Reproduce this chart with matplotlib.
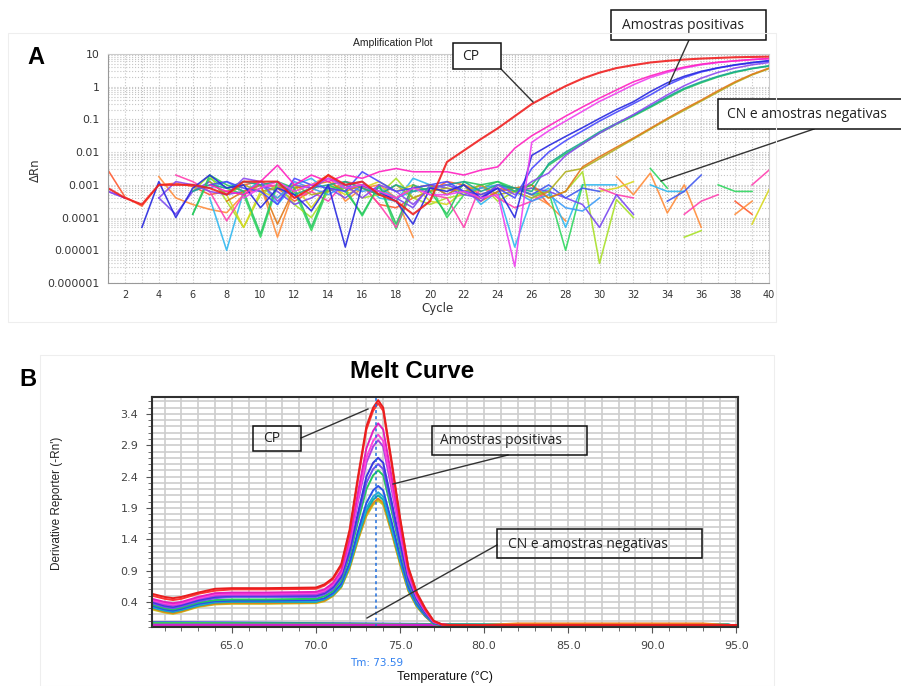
import numpy as np
import matplotlib
matplotlib.use('Agg')
import matplotlib.pyplot as plt
from matplotlib.patches import Rectangle
from matplotlib.ticker import FixedLocator, MultipleLocator, LogLocator, NullFormatter, FixedFormatter

n = np.nan

# ---------------- Panel A: amplification plot (log10 of delta Rn per cycle) ----------------
cycles = list(range(1, 41))

amp_cp_red = [-3.1,-3.4,-3.6,-3.0,-3.0,-3.0,-3.1,-3.3,-2.9,-2.9,-2.9,-3.4,-3.1,-2.7,-3.0,-2.9,-3.3,-3.5,-3.9,-3.5,
              -2.3,-1.95,-1.6,-1.27,-0.9,-0.53,-0.25,0.02,0.25,0.43,0.57,0.66,0.74,0.79,0.83,0.86,0.88,0.90,0.91,0.92]
amp_magenta1 = [n,n,n,n,n,n,-3.0,-3.2,-3.3,-2.9,-2.4,-3.0,-2.7,-2.9,-2.7,-2.8,-2.6,-2.5,-2.6,-2.6,
                -2.6,-2.7,-2.55,-2.45,-1.88,-1.5,-1.2,-0.9,-0.62,-0.35,-0.1,0.15,0.33,0.48,0.6,0.69,0.75,0.79,0.83,0.86]
amp_magenta2 = [n,n,n,n,n,n,n,n,-3.4,-3.1,-2.9,-3.2,-3.0,-2.8,-3.1,-3.0,-3.2,-3.4,-3.1,-3.3,
                -3.3,-3.2,-3.4,-3.3,-5.5,-1.7,-1.35,-1.05,-0.75,-0.45,-0.2,0.06,0.28,0.44,0.57,0.67,0.74,0.79,0.83,0.86]
amp_blue1 = [n,n,-4.3,-2.9,-4.0,-3.1,-2.7,-3.1,-3.0,-3.7,-3.1,-3.3,-3.8,-3.0,-4.9,-3.0,-3.2,-3.5,-4.2,-3.1,
             -3.2,-3.0,-3.4,-3.1,-4.0,-2.1,-1.8,-1.52,-1.25,-0.97,-0.7,-0.46,-0.15,0.12,0.32,0.47,0.58,0.67,0.74,0.8]
amp_blue2 = [n,n,n,n,n,n,-3.0,-2.9,-3.1,-3.2,-3.6,-2.8,-3.0,-3.1,-3.2,-2.6,-2.9,-3.2,-3.1,-3.0,
             -2.9,-3.2,-3.3,-3.1,-3.4,-2.5,-2.0,-1.65,-1.35,-1.05,-0.78,-0.52,-0.25,0.05,0.28,0.45,0.57,0.66,0.73,0.78]
amp_purple = [-3.2,-3.4,n,-3.4,-2.9,-3.0,-3.2,-3.3,-2.8,-2.9,-3.5,-3.0,-3.1,-2.8,-3.0,-3.4,-3.0,-3.2,-3.6,-3.1,
              -3.0,-3.2,-3.5,-3.0,-3.3,-2.9,-2.64,-2.1,-1.75,-1.42,-1.13,-0.85,-0.55,-0.25,0.03,0.26,0.44,0.57,0.67,0.74]
amp_teal = [n,n,n,n,n,-3.2,-3.0,-3.1,-2.9,-3.0,-2.9,-3.3,-3.1,-3.0,-2.9,-3.1,-3.3,-3.0,-3.2,-3.1,
            -3.0,-2.9,-3.2,-3.0,-3.1,-3.2,-2.35,-2.0,-1.7,-1.38,-1.12,-0.87,-0.6,-0.31,-0.05,0.15,0.32,0.46,0.56,0.64]
amp_green = [n,n,n,n,n,-3.9,-2.7,-3.0,-3.2,-4.5,-2.9,-3.1,-4.3,-3.0,-3.2,-3.9,-3.0,-4.2,-3.0,-3.2,
             -3.9,-2.9,-3.0,-2.9,-3.2,-3.0,-2.4,-2.05,-1.75,-1.42,-1.15,-0.9,-0.63,-0.35,-0.08,0.12,0.3,0.44,0.55,0.63]
amp_orange = [n,n,n,n,n,n,n,-3.5,-3.2,-3.0,-4.2,-3.1,-3.0,-2.9,-3.2,-3.0,-3.2,-3.4,-3.1,-3.0,
              -3.3,-3.0,-3.5,-3.2,-3.1,-3.0,-3.4,-3.2,-2.45,-2.14,-1.85,-1.57,-1.27,-0.97,-0.68,-0.41,-0.12,0.15,0.38,0.57]
amp_olive = [n,n,n,n,n,n,-2.9,-3.3,-3.0,-3.2,-3.1,-3.0,-3.3,-3.2,-2.9,-3.1,-3.3,-3.0,-3.4,-3.2,
             -3.1,-3.2,-3.0,-3.3,-3.2,-3.4,-3.2,-2.6,-2.5,-2.2,-1.9,-1.6,-1.3,-1.0,-0.72,-0.44,-0.16,0.12,0.36,0.55]

neg_orangered = [-2.55,-3.37,-3.65,-3.0,-2.95,-3.05,-3.3,-3.2,-3.0,-2.9,-3.1,-3.5,-3.2,-2.7,-3.1,-3.0,-3.6,-3.7,-3.4,-3.2,
                 -2.9,-3.0,-3.3,-3.1,-3.2,-3.0,-3.6,n,n,n,n,n,n,n,n,n,n,-3.5,-3.9,n]
neg_orange = [n,n,n,-2.75,-3.4,-3.6,-3.75,-3.85,-3.3,-3.0,-4.6,-3.1,-3.0,-2.7,-3.5,-3.1,-3.0,-3.4,-4.6,n,
              n,-3.0,-3.2,n,-3.1,-3.3,-3.6,-4.1,n,n,-2.75,-3.3,-2.64,-3.86,-3.0,-4.3,n,-3.9,-3.5,n]
neg_cyan = [n,n,n,n,n,n,-3.4,-5.0,-3.2,-2.9,-3.6,-3.0,-2.8,-3.2,-3.0,-2.9,-3.4,-3.5,-2.8,-3.0,
            -3.3,-3.0,-3.6,-3.2,-4.9,-3.4,-3.1,-4.3,-3.0,-3.0,-3.0,n,-3.0,-3.2,-3.2,n,n,n,n,n]
neg_green = [n,n,n,n,n,-3.9,-2.8,-3.1,-3.3,-4.6,-3.0,-3.2,-4.4,-3.1,-3.1,-3.95,-3.0,-4.35,-3.1,-3.0,
             -4.0,-3.3,-3.1,-2.9,-3.1,-3.3,-3.2,-5.0,-3.0,n,n,n,-2.5,-3.1,n,n,-3.0,-3.2,-3.2,n]
neg_lime = [n,n,n,n,n,-3.2,-2.7,-3.5,-4.3,-3.3,-3.0,-3.6,-4.0,-3.2,-3.0,-3.4,-3.3,-2.8,-3.4,-3.6,
            -3.4,-3.3,-3.0,-3.5,-3.2,-3.1,-3.4,-3.2,-2.6,-5.4,-3.45,-4.0,n,n,-4.6,-4.4,n,n,n,n]
neg_yellow = [n,n,n,n,n,n,n,-3.3,-4.3,-3.2,-3.4,-3.0,-3.7,-3.0,-3.3,-3.1,-2.9,-3.2,-3.0,-3.5,
              -3.6,-3.2,-3.4,-3.0,-3.1,n,n,n,n,-3.2,-3.1,-2.9,n,n,n,n,n,n,-4.2,-3.15]
neg_pink = [n,n,n,n,-2.7,-2.9,-3.2,-4.1,-3.3,-3.1,-3.0,-3.4,-3.2,-3.5,-2.9,-3.0,-3.6,-4.3,-3.0,-3.3,
            -3.4,-4.3,-3.0,-3.4,-3.7,-3.5,-3.2,n,n,-3.1,-3.3,-3.4,n,n,-3.9,-3.5,-3.3,n,-3.0,-2.55]
neg_purple = [-3.2,-3.4,n,-3.4,-3.9,-3.2,-2.9,-3.3,-3.2,-3.0,-3.2,-3.6,-3.4,-3.1,-3.4,-3.0,-3.3,-3.4,-3.7,-3.0,
              -3.1,-3.3,-3.4,-3.0,-3.2,-3.1,-3.2,-3.4,-3.6,-4.3,-3.3,-3.9,n,n,n,n,n,n,n,n]
neg_blue = [n,n,n,n,n,n,n,n,n,n,n,n,n,n,n,n,n,n,n,n,
            n,n,n,-3.0,-3.1,-3.3,-3.0,-3.4,-3.1,-3.2,n,n,n,-3.5,-3.2,-2.7,n,n,n,n]
neg_sky = [n,n,n,n,n,-3.0,-3.1,-2.9,-3.2,-3.0,-3.4,-2.9,-3.1,-3.3,-3.0,-3.2,-3.1,-3.4,-3.2,-3.1,
           -3.0,-3.2,-3.1,-3.0,-3.2,-3.5,-3.3,-3.7,-3.8,-3.4,n,n,n,n,n,n,n,n,n,n]

amp_series = [
    (neg_orangered, '#FF5A30'), (neg_orange, '#FF8C3A'), (neg_cyan, '#30B8F0'), (neg_green, '#30D860'),
    (neg_lime, '#A8E028'), (neg_yellow, '#D8D820'), (neg_pink, '#FF40B0'), (neg_purple, '#7848F0'),
    (neg_blue, '#4058F0'), (neg_sky, '#3C9CF8'),
    (amp_olive, '#B0B020'), (amp_orange, '#E07818'), (amp_green, '#28C860'), (amp_teal, '#18A890'),
    (amp_purple, '#8C48F0'), (amp_blue2, '#4848FF'), (amp_blue1, '#2828E0'),
    (amp_magenta2, '#F040F0'), (amp_magenta1, '#FF20C0'), (amp_cp_red, '#F02020'),
]
amp_yticks = [1e-6, 1e-5, 1e-4, 1e-3, 1e-2, 1e-1, 1, 10]
amp_yticklabels = ['0.000001', '0.00001', '0.0001', '0.001', '0.01', '0.1', '1', '10']
amp_xticks = list(range(2, 41, 2))

# ---------------- Panel B: melt curve ----------------
temp_pos = [60.25, 61, 61.5, 62, 63, 64, 65, 67, 70, 70.5, 71, 71.5, 72, 72.5, 73, 73.4, 73.7,
            74, 74.5, 75, 75.5, 76, 76.5, 77, 77.5, 78, 95]
melt_red1 = [0.53,0.48,0.46,0.48,0.55,0.61,0.62,0.62,0.63,0.68,0.78,1.0,1.55,2.4,3.2,3.5,3.62,3.5,2.65,1.75,0.95,0.55,0.3,0.1,0.04,0.03,0.03]
melt_red2 = [0.5,0.45,0.43,0.45,0.53,0.58,0.6,0.6,0.61,0.66,0.76,0.97,1.5,2.35,3.15,3.45,3.57,3.45,2.6,1.72,0.93,0.53,0.28,0.09,0.04,0.03,0.03]
melt_magenta = [0.45,0.4,0.38,0.4,0.48,0.54,0.55,0.55,0.56,0.6,0.7,0.9,1.4,2.15,2.85,3.13,3.25,3.15,2.4,1.6,0.88,0.5,0.27,0.09,0.04,0.03,0.02]
melt_pink = [0.43,0.38,0.36,0.38,0.46,0.52,0.53,0.53,0.54,0.58,0.68,0.87,1.35,2.05,2.7,2.97,3.07,2.97,2.28,1.52,0.84,0.48,0.26,0.08,0.04,0.03,0.02]
melt_purple = [0.42,0.36,0.34,0.37,0.45,0.5,0.51,0.51,0.52,0.56,0.66,0.85,1.3,2.0,2.62,2.88,2.98,2.88,2.2,1.48,0.82,0.47,0.25,0.08,0.04,0.03,0.02]
melt_blue = [0.4,0.34,0.32,0.35,0.43,0.48,0.5,0.5,0.5,0.54,0.63,0.8,1.22,1.82,2.4,2.62,2.7,2.62,2.0,1.36,0.76,0.44,0.23,0.07,0.03,0.02,0.02]
melt_violet = [0.38,0.32,0.3,0.33,0.41,0.46,0.48,0.48,0.48,0.52,0.6,0.78,1.18,1.76,2.3,2.52,2.6,2.52,1.93,1.3,0.73,0.42,0.22,0.07,0.03,0.02,0.02]
melt_green = [0.36,0.3,0.28,0.31,0.39,0.43,0.44,0.44,0.45,0.49,0.57,0.74,1.13,1.68,2.2,2.42,2.5,2.42,1.85,1.25,0.7,0.4,0.21,0.06,0.03,0.02,0.02]
melt_blue2 = [0.34,0.28,0.26,0.29,0.37,0.41,0.42,0.42,0.43,0.46,0.54,0.69,1.03,1.53,1.98,2.18,2.25,2.18,1.68,1.13,0.64,0.37,0.19,0.06,0.03,0.02,0.02]
melt_cyan = [0.32,0.27,0.25,0.28,0.35,0.4,0.41,0.41,0.41,0.45,0.52,0.67,1.0,1.47,1.9,2.08,2.15,2.08,1.6,1.08,0.61,0.35,0.18,0.06,0.03,0.02,0.02]
melt_teal = [0.31,0.26,0.24,0.27,0.34,0.39,0.4,0.4,0.4,0.44,0.51,0.65,0.97,1.43,1.85,2.03,2.1,2.03,1.56,1.05,0.6,0.34,0.18,0.05,0.03,0.02,0.02]
melt_orange = [0.3,0.24,0.22,0.25,0.33,0.37,0.38,0.38,0.39,0.42,0.5,0.64,0.95,1.4,1.8,1.98,2.05,1.98,1.52,1.02,0.58,0.33,0.17,0.05,0.03,0.02,0.02]
melt_yellow = [0.28,0.23,0.21,0.24,0.32,0.36,0.37,0.37,0.38,0.41,0.49,0.63,0.93,1.38,1.77,1.95,2.02,1.95,1.5,1.0,0.57,0.32,0.17,0.05,0.03,0.02,0.02]

temp_neg = [60.25, 65, 70, 75, 80, 82, 86, 89, 93, 94.5, 95]
melt_neg_blue = [0.075,0.07,0.06,0.05,0.04,0.04,0.04,0.04,0.04,0.04,0.01]
melt_neg_green = [0.065,0.06,0.055,0.045,0.04,0.04,0.04,0.04,0.04,0.04,0.01]
melt_neg_orange = [0.03,0.03,0.03,0.03,0.03,0.055,0.055,0.055,0.055,0.03,0.0]
melt_neg_magenta = [0.035,0.035,0.035,0.035,0.03,0.03,0.03,0.03,0.03,0.03,0.0]

melt_pos_series = [
    (melt_yellow, '#C8C820'), (melt_orange, '#E08818'), (melt_teal, '#10B0A0'), (melt_cyan, '#20A8D8'),
    (melt_blue2, '#2850E8'), (melt_green, '#20C860'), (melt_violet, '#7050F0'), (melt_blue, '#3838E0'),
    (melt_purple, '#B040E0'), (melt_pink, '#FF44DD'), (melt_magenta, '#E020C0'),
    (melt_red2, '#FF3333'), (melt_red1, '#E81E1E'),
]
melt_neg_series = [(melt_neg_blue, '#3040F0'), (melt_neg_green, '#30D060'),
                   (melt_neg_orange, '#F08020'), (melt_neg_magenta, '#D020D0')]
tm_value = 73.59
melt_xticks = [65, 70, 75, 80, 85, 90, 95]
melt_yticks = [0.4, 0.9, 1.4, 1.9, 2.4, 2.9, 3.4]

# ---------------- Figure ----------------
W, H = 901, 686
fig = plt.figure(figsize=(W / 100, H / 100), dpi=100)
fig.patch.set_facecolor('white')

def frac(x0, y0, x1, y1):
    return [x0 / W, 1 - y1 / H, (x1 - x0) / W, (y1 - y0) / H]

# faint panel frames
for (x0, y0, x1, y1) in [(8, 33, 776, 322), (40, 355, 774, 686)]:
    fig.add_artist(Rectangle((x0 / W, 1 - y1 / H), (x1 - x0) / W, (y1 - y0) / H,
                             transform=fig.transFigure, fill=False, ec='#EEEEEE', lw=0.8))

# ---- Panel A ----
axA = fig.add_axes(frac(108, 54, 769, 283))
for vals, col in amp_series:
    lw = 1.5 if vals is amp_cp_red else 1.15
    axA.plot(cycles, 10 ** np.array(vals, dtype=float), color=col, lw=lw, alpha=0.9)
axA.set_yscale('log')
axA.set_xlim(1, 40)
axA.set_ylim(1e-6, 10)
axA.yaxis.set_major_locator(FixedLocator(amp_yticks))
axA.yaxis.set_major_formatter(FixedFormatter(amp_yticklabels))
axA.yaxis.set_minor_locator(LogLocator(base=10, subs=np.arange(2, 10)))
axA.yaxis.set_minor_formatter(NullFormatter())
axA.xaxis.set_major_locator(FixedLocator(amp_xticks))
axA.xaxis.set_minor_locator(MultipleLocator(1))
axA.grid(which='both', ls=':', color='#C4C4C4', lw=0.8)
axA.tick_params(which='major', length=0, labelsize=7.8, labelcolor='#333333', pad=6)
axA.tick_params(axis='x', which='major', labelsize=7, pad=5)
axA.tick_params(which='minor', length=0)
for s in ['left', 'bottom']:
    axA.spines[s].set_color('#999999')
for s in ['top', 'right']:
    axA.spines[s].set_color('#CCCCCC')
fig.text(393 / W, 1 - 43 / H, 'Amplification Plot', ha='center', va='center', fontsize=7.5,
         family='Liberation Sans', color='#222222')
fig.text(35 / W, 1 - 170 / H, 'ΔRn', rotation=90, ha='center', va='center', fontsize=8.5, color='#333333')
fig.text(438 / W, 1 - 308 / H, 'Cycle', ha='center', va='center', fontsize=8.5, color='#333333')
fig.text(36 / W, 1 - 57 / H, 'A', ha='center', va='center', fontsize=17, fontweight='bold',
         family='Liberation Sans')

# ---- Panel B ----
axB = fig.add_axes(frac(152, 397, 738, 627))
for vals, col in melt_neg_series:
    axB.plot(temp_neg, vals, color=col, lw=1.6)
for vals, col in melt_pos_series:
    axB.plot(temp_pos, vals, color=col, lw=1.4)
axB.axvline(tm_value, color='#2070E0', ls=(0, (2, 2)), lw=1.1)
axB.set_xlim(60.25, 95.1)
axB.set_ylim(0, 3.67)
axB.xaxis.set_major_locator(FixedLocator(melt_xticks))
axB.xaxis.set_minor_locator(MultipleLocator(1))
axB.yaxis.set_major_locator(FixedLocator(melt_yticks))
axB.yaxis.set_minor_locator(MultipleLocator(0.1))
axB.set_xticklabels([f'{v:.1f}' for v in melt_xticks])
axB.set_yticklabels([f'{v:.1f}' for v in melt_yticks])
axB.grid(which='both', color='#CDCDCD', lw=1.2)
axB.set_axisbelow(True)
axB.tick_params(which='major', length=4, color='#555555', labelsize=8, labelcolor='#444444', pad=6)
axB.tick_params(which='minor', length=3, color='#555555')
for s in axB.spines.values():
    s.set_color('#303030')
    s.set_linewidth(1.5)
fig.text(412 / W, 1 - 371 / H, 'Melt Curve', ha='center', va='center', fontsize=17.5,
         fontweight='bold', family='Liberation Sans')
fig.text(57 / W, 1 - 503 / H, "Derivative Reporter (-Rn')", rotation=90, ha='center', va='center',
         fontsize=8.5, family='Liberation Sans', color='#222222')
fig.text(445 / W, 1 - 677 / H, 'Temperature (°C)', ha='center', va='center', fontsize=9,
         family='Liberation Sans', color='#111111')
axB.text(tm_value, -0.58, f'Tm: {tm_value:.2f}', ha='center', va='center', fontsize=7.5,
         color='#3080F0', clip_on=False)
fig.text(28 / W, 1 - 379 / H, 'B', ha='center', va='center', fontsize=17, fontweight='bold',
         family='Liberation Sans')

# ---- Annotation overlay (pixel coordinates) ----
ov = fig.add_axes([0, 0, 1, 1])
ov.set_xlim(0, W)
ov.set_ylim(H, 0)
ov.axis('off')
ov.patch.set_alpha(0)

boxes = [
    (453, 43, 501, 69, 'CP', 462, 'white'),
    (611, 10, 766, 40, 'Amostras positivas', 622, 'white'),
    (718, 99, 910, 129, 'CN e amostras negativas', 727, 'white'),
    (253, 426, 301, 451, 'CP', 263, 'none'),
    (432, 426, 587, 455, 'Amostras positivas', 440, 'none'),
    (497, 529, 702, 558, 'CN e amostras negativas', 508, 'none'),
]
for x0, y0, x1, y1, txt, tx, fc in boxes:
    ov.add_patch(Rectangle((x0, y0), x1 - x0, y1 - y0, fc=fc, ec='#111111', lw=1.1, zorder=5))
    ov.text(tx, (y0 + y1) / 2 + 0.5, txt, ha='left', va='center', fontsize=10, family='Open Sans',
            color='#222222', zorder=6)

leaders = [
    ((501, 69), (533, 102)), ((689, 40), (669, 84)), ((814, 129), (661, 181)),
    ((301, 438), (368, 409)), ((508, 455), (393, 484)), ((497, 545), (367, 618)),
]
for (xa, ya), (xb, yb) in leaders:
    ov.plot([xa, xb], [ya, yb], color='#333333', lw=1.0, zorder=4)

fig.savefig('out.png', dpi=100)
